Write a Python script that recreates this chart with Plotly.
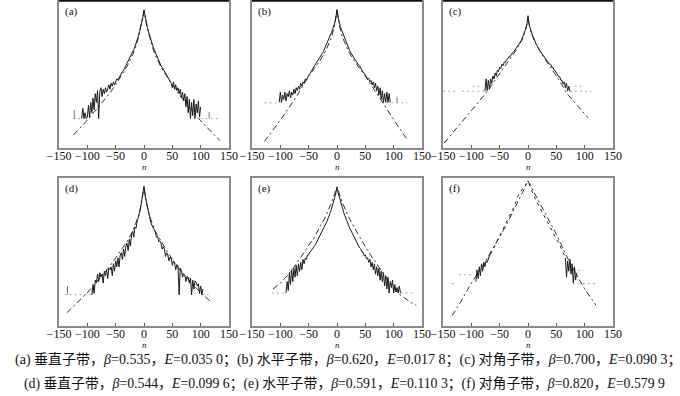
import plotly.graph_objects as go

# ---------------- data ----------------
N_TICKS = [-150, -100, -50, 0, 50, 100, 150]
TICK_TEXT = ["\u2212150", "\u2212100", "\u221250", "0", "50", "100", "150"]
PANEL_LABELS = ["(a)", "(b)", "(c)", "(d)", "(e)", "(f)"]
X_TITLE = "n"
CAPTION_1 = ("(a) 垂直子带，<i>β</i>=0.535，<i>E</i>=0.035 0；(b) 水平子带，<i>β</i>=0.620，"
             "<i>E</i>=0.017 8；(c) 对角子带，<i>β</i>=0.700，<i>E</i>=0.090 3；")
CAPTION_2 = ("(d) 垂直子带，<i>β</i>=0.544，<i>E</i>=0.099 6；(e) 水平子带，<i>β</i>=0.591，"
             "<i>E</i>=0.110 3；(f) 对角子带，<i>β</i>=0.820，<i>E</i>=0.579 9")

# (a) histogram (log) sampled every 2 bins starting at A_START
A_START = -110
A_SOLID = [20, 27, 20, 24, 20, 21, 29, 21, 31, 24, 34, 26, 37, 31, 39, 20, 38, 41, 35, 40,
           37, 41, 38, 41, 43, 40, 44, 42, 45, 43, 46, 47, 46.5, 48, 50, 51, 52, 53, 54.5, 56,
           57.5, 59, 60, 61.5, 63, 65, 67, 69, 71, 73.5, 76, 79, 82, 85, 89, 94, 89, 85, 82, 79,
           76, 73.5, 71, 69, 67, 65, 63, 61, 59.5, 58, 56, 55, 53.5, 52, 51, 49.5, 48, 47, 45, 44,
           41, 45, 40, 43, 39, 41, 37, 40, 34, 38, 32, 37, 28, 35, 24, 33, 20, 31, 22, 33,
           20, 30, 24, 32, 21, 28]
A_FIT_N = [-124, -110, -100, -90, -80, -70, -60, -50, -40, -30, -20, -15, -10, -5, 0,
           5, 10, 15, 20, 30, 40, 50, 60, 70, 80, 90, 100, 110, 120, 134]
A_FIT = [9, 14.5, 19, 23.5, 28, 32.5, 37.5, 43, 49, 55.5, 63.5, 68.5, 75, 83, 93,
         83, 75, 68.5, 63, 55, 49, 43, 37.5, 32.5, 27.5, 23, 18.5, 14.5, 10.5, 5]
A_FLOOR = 20
A_FLOOR_N = [-125, -110, None, 100, 135]
A_MARK_N = [-123, 115]
A_MARK_V = [26, 24.5]

# (b)
B_START = -102
B_SOLID = [31, 38, 31, 36, 33, 38, 32, 37, 35, 39, 34, 38, 36, 40, 37, 41, 39, 42, 40, 44,
           42, 45, 44, 47, 46, 48.5, 49.5, 50.5, 51.5, 53, 54.5, 55.7, 56.5, 57.5, 59, 60, 61.4,
           62.5, 64, 65.5, 67.5, 69.3, 70.5, 72, 74, 76, 78.4, 80.5, 82.5, 85, 88.5, 94.3,
           88.5, 85, 82.5, 80.5, 78.4, 76, 74, 71.5, 70, 68, 66.5, 65, 63.5, 62.5, 61.4, 60,
           59, 57.5, 56.5, 55.7, 54, 53.5, 51.5, 51, 49.5, 49, 47, 47.5, 45, 46, 43, 45, 41,
           44, 39, 42, 36, 41, 33, 39, 31, 37, 31, 38, 31, 37, 31]
B_FIT_N = [-128, -120, -110, -100, -90, -80, -70, -60, -50, -40, -30, -20, -10, -5, 0,
           5, 10, 20, 30, 40, 50, 60, 70, 80, 90, 100, 110, 124]
B_FIT = [4.5, 8.5, 13.5, 19, 24.5, 30, 36, 42.5, 49, 54, 59.5, 66, 75, 82, 94,
         82, 75, 66, 59.5, 54, 49, 43, 37, 31, 25.5, 19.5, 13.5, 5.7]
B_FLOOR = 30.7
B_FLOOR_N = [-128, -102, None, 96, 124]
B_MARK_N = [106]
B_MARK_V = [35]

# (c)
C_START = -76
C_SOLID = [38.6, 47, 39, 46, 40, 47, 44, 49, 47, 51, 49, 53, 52, 55, 54, 57, 56, 58.5, 58, 60,
           60.5, 62, 62, 63.6, 64.5, 65, 66.5, 67, 68.5, 69.5, 70.5, 72, 73, 75, 77, 78.5, 81,
           84, 90, 84, 81, 78.5, 76.5, 75, 72.5, 71, 69.5, 68.5, 67, 65.5, 64.5, 63, 62, 61,
           60.5, 59, 58.5, 57, 57, 55, 55, 53, 52.5, 51, 50.5, 48.5, 48.5, 46, 46, 43.5, 45,
           41, 44, 39, 42, 38.6]
C_FIT_N = [-148, -130, -110, -90, -74, -60, -50, -40, -30, -20, -10, -5, 0,
           5, 10, 20, 30, 40, 50, 60, 70, 80, 90, 106]
C_FIT = [3.4, 11.5, 20.5, 30, 37.5, 45, 50.5, 56, 61.5, 67, 74, 79, 88,
         79, 74, 66.5, 60.5, 55, 49, 43, 36.5, 32, 27.5, 20.5]
C_FLOOR = 38.6
C_FLOOR_N = [-150, -128, None, -116, -76, None, 74, 112]
C_FLOOR2 = 42
C_FLOOR2_N = [-98, -82, None, 82, 97]

# (d)
D_START = -92
D_SOLID = [21, 28, 22, 31, 29, 35, 30, 36, 33, 35, 29, 37, 34, 38, 32, 39, 38, 40, 34, 42,
           37, 44, 40, 46, 40, 48, 49.5, 45, 52, 47, 54, 56, 51, 58.5, 54, 61.5, 64, 60, 67,
           66, 71, 73, 76, 80, 84, 88, 94.4, 88, 84, 80, 76.5, 74, 70, 68, 66.5, 64, 63.5, 60,
           60.5, 57, 57.5, 56, 52, 53.5, 52, 47, 49.5, 48, 44, 46.5, 45.5, 41, 44, 42.5, 38,
           41.5, 40.3, 21, 39, 37.5, 33, 35, 34.5, 30, 33.5, 33, 29, 32.5, 21, 31, 25, 30.5,
           29.5, 27, 28.5, 22, 27, 21.2, 25]
D_FIT_N = [-136, -120, -110, -100, -90, -80, -70, -60, -50, -40, -30, -20, -10, -5, 0,
           5, 10, 20, 30, 40, 50, 60, 70, 80, 90, 100, 110, 118]
D_FIT = [9, 15, 18.5, 22.5, 27, 31.5, 36, 40.5, 46, 51.5, 57, 64, 74, 82, 94,
         82, 74, 64, 57, 51, 45, 39.5, 35, 30.5, 26.5, 22.5, 19, 16.4]
D_FLOOR = 21.2
D_FLOOR_N = [-140, -92, None, 102, 120]
D_MARK_N = [-135]
D_MARK_V = [27]

# (e)
E_START = -90
E_SOLID = [22.3, 30, 24, 36, 28, 38, 30, 39, 33, 41, 34, 42, 37, 43, 38, 45, 42, 46, 45, 48,
           48, 50, 50.5, 52, 52.5, 54, 55, 56.5, 57.5, 59, 60.6, 62, 63.5, 65, 67, 68.5, 70.5,
           72.5, 74, 76.5, 78.6, 81, 84, 87, 90, 93.7, 90, 87, 84, 81, 78.6, 76.5, 74.5, 72,
           70.5, 68.5, 66.5, 65, 63, 61.5, 59.5, 58.5, 57, 55.5, 54, 52.7, 52, 50, 50, 47.5,
           48, 45.5, 46, 43, 45, 40, 43, 38, 42, 35, 40, 34, 39, 31, 37, 30, 36, 27, 34, 25,
           33, 22.3, 30, 26, 31, 22.3, 28, 23, 26, 22.3, 27, 22.3]
E_FIT_N = [-113, -100, -90, -80, -70, -60, -50, -40, -30, -20, -10, 0,
           10, 20, 30, 40, 50, 60, 70, 80, 90, 100, 110, 120, 130, 140]
E_FIT = [25, 29, 33, 37.5, 43, 48.5, 54, 60, 67, 74, 83, 94,
         83, 74, 67, 60, 53.5, 47.5, 42, 36, 30.5, 25.5, 21.5, 18.5, 16, 14]
E_FLOOR = 22.3
E_FLOOR_N = [-115, -90, None, 112, 135]

# (f)
F_START = -92
F_SOLID = [30, 38, 32, 40, 34, 42, 37, 43, 40, 44, 43, 46, 47.5, 48.5, 50, 51.5, 53, 54.5,
           56, 58, 59.5, 61, 62.5, 64, 65.5, 67, 68.5, 70, 71.5, 73, 74.5, 76, 77.5, 79, 81,
           83.5, 86, 87.5, 89, 90.5, 91.5, 92.5, 93.5, 94.5, 95.5, 96.5, 97.5, 96, 94.5, 92.5,
           90, 88, 86.5, 85, 83.5, 82, 80.5, 79, 77.5, 76, 74.5, 73, 72, 70.5, 69, 67.5, 66,
           64.5, 63, 61.5, 60, 59, 57.5, 56.5, 55, 53.5, 52, 50, 48, 46, 33, 44, 37, 45, 35,
           42, 29, 40, 31, 36]
F_FIT_N = [-134, -120, -100, -89, -80, -70, -60, -54, -40, -30, -21, -10, 0,
           10, 20, 30, 40, 50, 60, 67, 80, 91, 100, 110, 120]
F_FIT = [7, 15.5, 29, 35, 40.5, 47, 53.5, 57.5, 67, 74.5, 82, 90, 98,
         91, 84, 77, 69.5, 62, 54, 48, 38.5, 30.5, 25, 19.5, 14]
F_FLOOR = 34.7
F_FLOOR_N = [-122, -98]
F_FLOOR2 = 28.6
F_FLOOR2_N = [-135, -130, None, 79, 123]
F_FLOOR3 = 37.6
F_FLOOR3_N = [88, 98]

# ---------------- figure ----------------
W, H = 680, 396
COLS = [(59, 229), (252, 422), (443, 613)]
ROWS = [(1, 148), (178, 326)]
SERIF = "Liberation Serif, Times New Roman, serif"
CJK = "Liberation Serif, Noto Sans CJK SC, serif"
DARK = "#1a1a1a"
FIT_COLOR = "#303030"
FLOOR_COLOR = "#a8a8a8"

fig = go.Figure()


def ax_names(i):
    return ("x" if i == 0 else f"x{i+1}", "y" if i == 0 else f"y{i+1}")


def floor_y(ns, level):
    return [None if n is None else level for n in ns]


def add_floor(i, ns, level):
    xa, ya = ax_names(i)
    fig.add_trace(go.Scatter(x=ns, y=floor_y(ns, level), mode="lines", xaxis=xa, yaxis=ya,
                             line=dict(color=FLOOR_COLOR, width=1, dash="2px,3px"),
                             connectgaps=False, hoverinfo="skip", showlegend=False))


def add_marks(i, ns, vs, level):
    xa, ya = ax_names(i)
    xs, ys = [], []
    for n, v in zip(ns, vs):
        xs += [n, n, None]
        ys += [level, v, None]
    fig.add_trace(go.Scatter(x=xs, y=ys, mode="lines", xaxis=xa, yaxis=ya,
                             line=dict(color="#777777", width=1), hoverinfo="skip",
                             showlegend=False))


def add_fit(i, ns, vs):
    xa, ya = ax_names(i)
    fig.add_trace(go.Scatter(x=ns, y=vs, mode="lines", xaxis=xa, yaxis=ya,
                             line=dict(color=FIT_COLOR, width=1, dash="6px,3px,2px,3px"),
                             hoverinfo="skip", showlegend=False))


def add_solid(i, start, vs, dash_center=None):
    xa, ya = ax_names(i)
    ns = [start + 2 * k for k in range(len(vs))]
    if dash_center is None:
        fig.add_trace(go.Scatter(x=ns, y=vs, mode="lines", xaxis=xa, yaxis=ya,
                                 line=dict(color=DARK, width=1), hoverinfo="skip",
                                 showlegend=False))
    else:
        cx = [n for n in ns if abs(n) <= dash_center]
        cy = [v for n, v in zip(ns, vs) if abs(n) <= dash_center]
        fig.add_trace(go.Scatter(x=cx, y=cy, mode="lines", xaxis=xa, yaxis=ya,
                                 line=dict(color=DARK, width=1, dash="3px,4px"),
                                 hoverinfo="skip", showlegend=False))
        tx = [n if abs(n) >= dash_center else None for n in ns]
        ty = [v if abs(n) >= dash_center else None for n, v in zip(ns, vs)]
        fig.add_trace(go.Scatter(x=tx, y=ty, mode="lines", xaxis=xa, yaxis=ya,
                                 line=dict(color=DARK, width=1), connectgaps=False,
                                 hoverinfo="skip", showlegend=False))


# (a)
add_floor(0, A_FLOOR_N, A_FLOOR)
add_marks(0, A_MARK_N, A_MARK_V, A_FLOOR)
add_fit(0, A_FIT_N, A_FIT)
add_solid(0, A_START, A_SOLID)
# (b)
add_floor(1, B_FLOOR_N, B_FLOOR)
add_marks(1, B_MARK_N, B_MARK_V, B_FLOOR)
add_fit(1, B_FIT_N, B_FIT)
add_solid(1, B_START, B_SOLID)
# (c)
add_floor(2, C_FLOOR_N, C_FLOOR)
add_floor(2, C_FLOOR2_N, C_FLOOR2)
add_fit(2, C_FIT_N, C_FIT)
add_solid(2, C_START, C_SOLID)
# (d)
add_floor(3, D_FLOOR_N, D_FLOOR)
add_marks(3, D_MARK_N, D_MARK_V, D_FLOOR)
add_fit(3, D_FIT_N, D_FIT)
add_solid(3, D_START, D_SOLID)
# (e)
add_floor(4, E_FLOOR_N, E_FLOOR)
add_fit(4, E_FIT_N, E_FIT)
add_solid(4, E_START, E_SOLID)
# (f)
add_floor(5, F_FLOOR_N, F_FLOOR)
add_floor(5, F_FLOOR2_N, F_FLOOR2)
add_floor(5, F_FLOOR3_N, F_FLOOR3)
add_fit(5, F_FIT_N, F_FIT)
add_solid(5, F_START, F_SOLID, dash_center=66)

layout = dict(width=W, height=H,
              margin=dict(l=0, r=0, t=0, b=0, pad=0, autoexpand=False),
              paper_bgcolor="white", plot_bgcolor="white", showlegend=False)
annotations = []
shapes = []
for i in range(6):
    r, c = divmod(i, 3)
    x0, x1 = COLS[c]
    y0, y1 = ROWS[r]
    xa_key = "xaxis" if i == 0 else f"xaxis{i+1}"
    ya_key = "yaxis" if i == 0 else f"yaxis{i+1}"
    xa, ya = ax_names(i)
    layout[xa_key] = dict(domain=[x0 / W, x1 / W], range=[-150, 150], anchor=ya,
                          tickvals=N_TICKS, ticktext=TICK_TEXT, ticks="inside", ticklen=3,
                          tickcolor="#555555", showgrid=False, zeroline=False,
                          showline=True, mirror=True, linecolor="#8a8a8a", linewidth=1.5,
                          automargin=False, ticklabelstandoff=-4,
                          tickfont=dict(family=SERIF, size=12, color="#111111"))
    layout[ya_key] = dict(domain=[1 - y1 / H, 1 - y0 / H], range=[0, 100], anchor=xa,
                          showticklabels=False, ticks="", showgrid=False, zeroline=False,
                          showline=True, mirror=True, linecolor="#8a8a8a", linewidth=1.5,
                          automargin=False)
    annotations.append(dict(text=PANEL_LABELS[i], xref="paper", yref="paper",
                            x=(x0 + 4) / W, y=1 - (y0 + 2) / H, xanchor="left",
                            yanchor="top", showarrow=False,
                            font=dict(family=SERIF, size=11, color="#111111")))
    n_y = 167 if r == 0 else 344.5
    annotations.append(dict(text="<i>" + X_TITLE + "</i>", xref="paper", yref="paper",
                            x=(x0 + x1) / 2 / W, y=1 - n_y / H, xanchor="center",
                            yanchor="middle", showarrow=False,
                            font=dict(family=SERIF, size=9, color="#111111")))
    if r == 0:
        shapes.append(dict(type="line", xref="paper", yref="paper", x0=x0 / W, x1=x1 / W,
                           y0=1 - 0.8 / H, y1=1 - 0.8 / H,
                           line=dict(color="#111111", width=2)))

annotations.append(dict(text=CAPTION_1, xref="paper", yref="paper", x=13 / W, y=1 - 359.5 / H,
                        xanchor="left", yanchor="middle", showarrow=False,
                        font=dict(family=CJK, size=14, color="#111111")))
annotations.append(dict(text=CAPTION_2, xref="paper", yref="paper", x=22 / W, y=1 - 383 / H,
                        xanchor="left", yanchor="middle", showarrow=False,
                        font=dict(family=CJK, size=13.8, color="#111111")))
layout["annotations"] = annotations
layout["shapes"] = shapes
fig.update_layout(**layout)
fig.write_html("out.html", config={"displayModeBar": False},
               post_script="document.body.style.margin='0';document.body.style.overflow='hidden';")
